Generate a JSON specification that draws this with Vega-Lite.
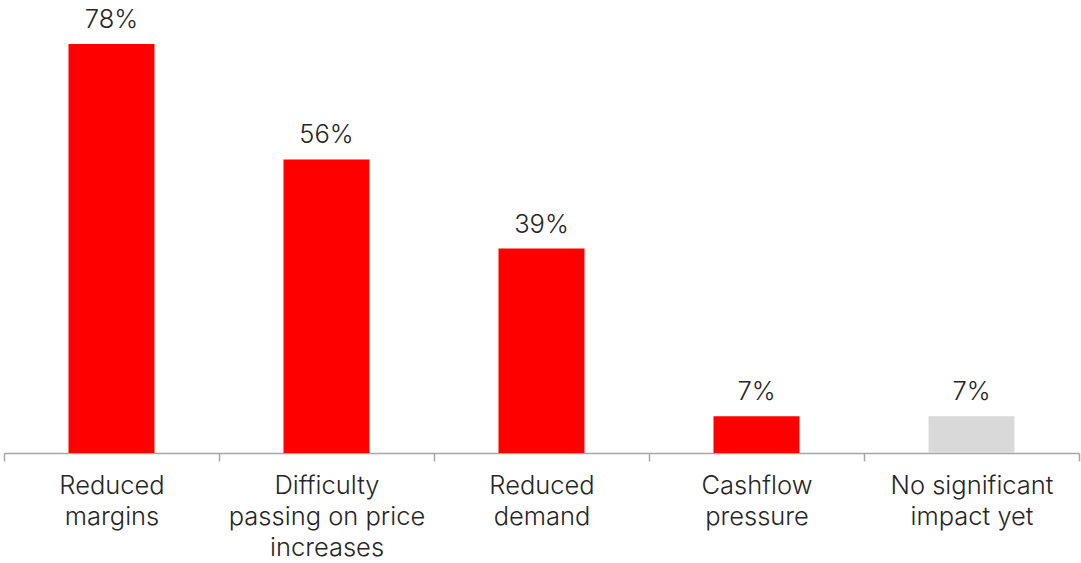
{
  "$schema": "https://vega.github.io/schema/vega-lite/v6.json",
  "width": 1075,
  "height": 453,
  "padding": {"left": 3, "top": 0, "right": 3, "bottom": 0},
  "background": "white",
  "config": {"view": {"stroke": null}, "font": "Inter"},
  "data": {"values": [
    {"cat": "Reduced|margins", "value": 78, "label": "78%", "grp": "a"},
    {"cat": "Difficulty|passing on price|increases", "value": 56, "label": "56%", "grp": "a"},
    {"cat": "Reduced|demand", "value": 39, "label": "39%", "grp": "a"},
    {"cat": "Cashflow|pressure", "value": 7, "label": "7%", "grp": "a"},
    {"cat": "No significant|impact yet", "value": 7, "label": "7%", "grp": "b"}
  ]},
  "encoding": {
    "x": {"field": "cat", "type": "nominal", "sort": null,
      "scale": {"paddingInner": 0, "paddingOuter": 0},
      "axis": {"title": null, "labelAngle": 0, "labelExpr": "split(datum.label, '|')",
        "tickBand": "extent", "domainColor": "#A6A6A6", "tickColor": "#A6A6A6", "tickSize": 8,
        "domainWidth": 1.5, "tickWidth": 1.5,
        "labelFont": "Inter", "labelFontWeight": 300, "labelFontSize": 25.5, "labelColor": "#262626",
        "labelLineHeight": 31, "labelPadding": 12, "labelLimit": 300}},
    "y": {"field": "value", "type": "quantitative", "scale": {"domain": [0, 86.4], "nice": false}, "axis": null}
  },
  "layer": [
    {"mark": {"type": "bar", "width": {"band": 0.4}},
     "encoding": {"color": {"field": "grp", "type": "nominal", "scale": {"domain": ["a", "b"], "range": ["#FF0000", "#D9D9D9"]}, "legend": null}}},
    {"mark": {"type": "text", "dy": -16, "baseline": "alphabetic", "fontSize": 25.5, "fontWeight": 300, "font": "Inter", "color": "#262626"},
     "encoding": {"text": {"field": "label"}}}
  ]
}
